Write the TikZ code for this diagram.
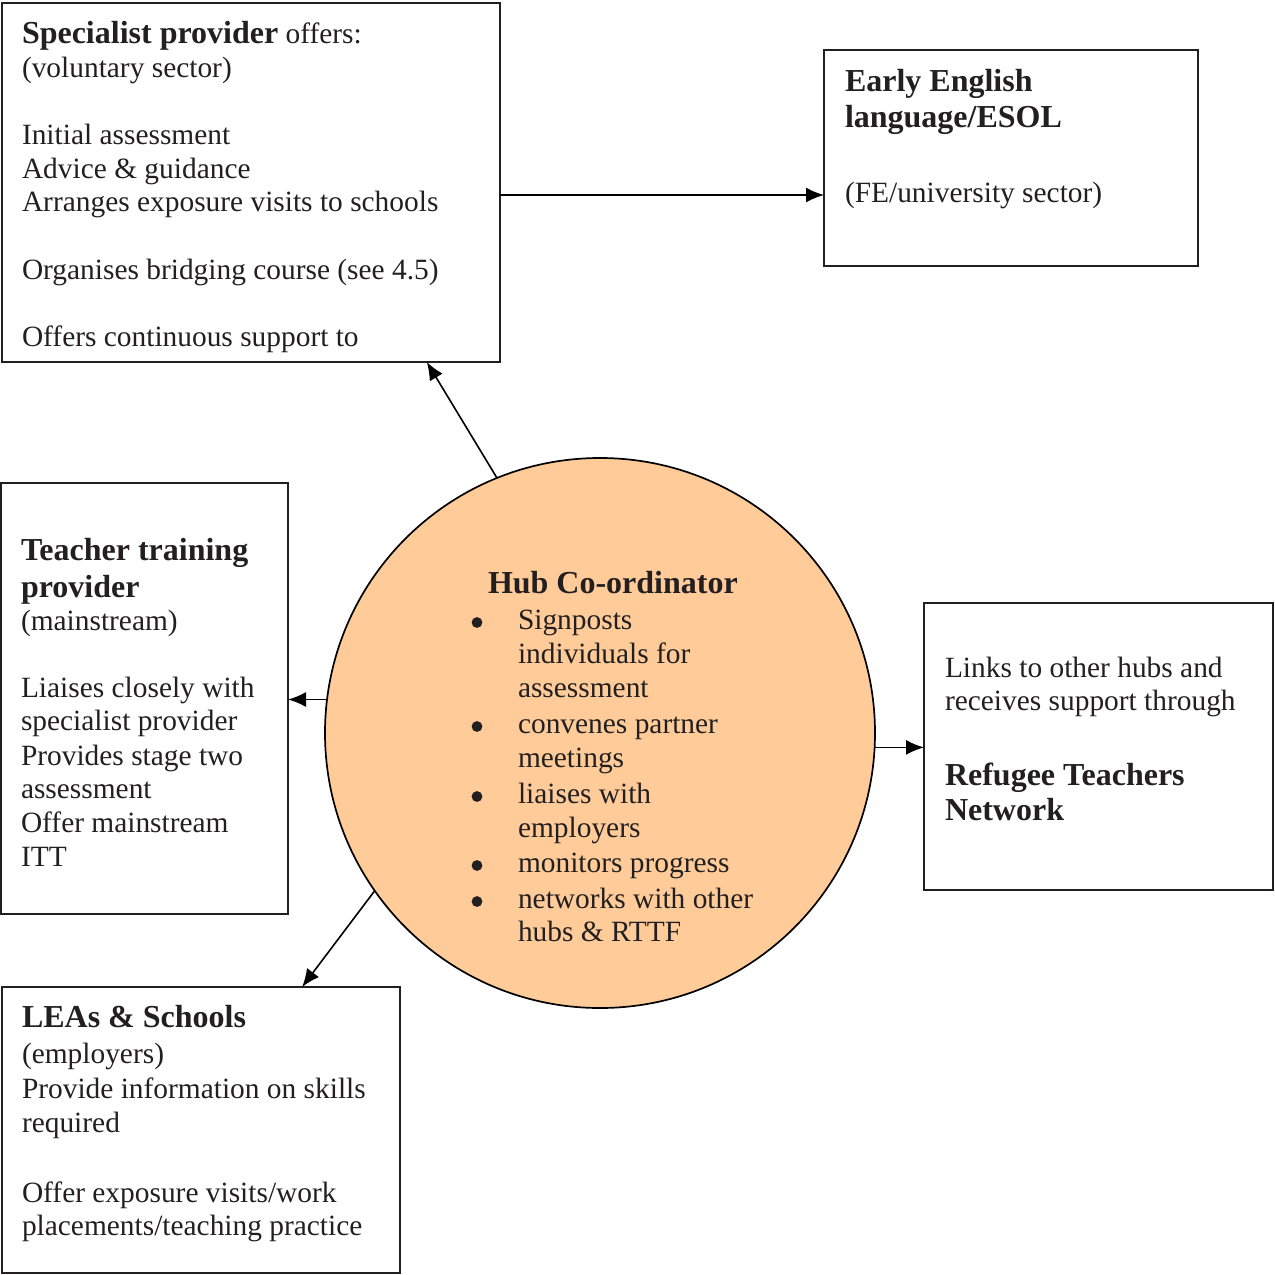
\documentclass[tikz,border=0pt]{standalone}
\usepackage{fontspec}
\setmainfont{Liberation Serif}
\usetikzlibrary{arrows.meta,calc}
\definecolor{ink}{HTML}{231F20}
\definecolor{peach}{HTML}{FFCC99}
\newcommand\tl[4]{\node[tx] (#1) at (#2,#3) {#4};}
\newcommand\hl[4]{\node[tx,hd] (#1) at (#2,#3) {#4};}
\newcommand\bl[3]{\node[dot] (#1) at (#2,#3-6.5) {};}
\begin{document}
\begin{tikzpicture}[x=0.5pt,y=-0.5pt,
 tx/.style={anchor=base west,inner sep=0pt,outer sep=0pt,text=ink,font=\fontsize{14.7}{17}\selectfont},
 hd/.style={font=\fontsize{16}{18.5}\selectfont\bfseries},
 dot/.style={circle,fill=ink,inner sep=0pt,minimum size=5.4pt},
 box/.style={draw=ink,line width=1pt,rectangle,inner sep=0pt,outer sep=0pt,anchor=north west},
 arr/.style={draw=black,line width=0.8pt,-{Latex[length=9pt,width=7.5pt]}}]
\useasboundingbox (0,0) rectangle (1275,1275);
% boxes
\node[box,minimum width=249pt,minimum height=179.5pt] (sp) at (2,3) {};
\node[box,minimum width=187pt,minimum height=108pt] (ee) at (824,50) {};
\node[box,minimum width=143.5pt,minimum height=215.5pt] (tt) at (1,483) {};
\node[box,minimum width=174.5pt,minimum height=143.5pt] (rtn) at (924,603) {};
\node[box,minimum width=199pt,minimum height=143pt] (lea) at (2,987) {};
\node[circle,draw=black,line width=0.85pt,fill=peach,minimum size=275pt,inner sep=0pt,outer sep=0pt] (hub) at (600,733) {};
% connectors
\draw[arr] (hub.112) -- ($(sp.south west)!0.853!(sp.south east)$);
\draw[arr] ([yshift=-6.25pt]sp.east) -- ([yshift=-6.25pt]sp.east -| ee.west);
\draw[arr] (hub.173) -- (hub.173 -| tt.east);
\draw[arr] (hub.-3) -- (hub.-3 -| rtn.west);
\draw[arr] (hub.215) -- ($(lea.north west)!0.754!(lea.north east)$);
% specialist provider
\tl{s1}{22}{43}{{\fontsize{16}{18.5}\selectfont\bfseries Specialist provider} offers:}
\tl{s2}{22}{77}{(voluntary sector)}
\tl{s3}{22}{144}{Initial assessment}
\tl{s4}{22}{178}{Advice \& guidance}
\tl{s5}{22}{211}{Arranges exposure visits to schools}
\tl{s6}{22}{279}{Organises bridging course (see 4.5)}
\tl{s7}{22}{346}{Offers continuous support to}
% early english
\hl{e1}{845}{91}{Early English}
\hl{e2}{845}{127}{language/ESOL}
\tl{e3}{845}{202}{(FE/university sector)}
% teacher training
\hl{t1}{21}{560}{Teacher training}
\hl{t2}{21}{597}{provider}
\tl{t3}{21}{630}{(mainstream)}
\tl{t4}{21}{697}{Liaises closely with}
\tl{t5}{21}{730}{specialist provider}
\tl{t6}{21}{765}{Provides stage two}
\tl{t7}{21}{798}{assessment}
\tl{t8}{21}{832}{Offer mainstream}
\tl{t9}{21}{866}{ITT}
% hub
\hl{h0}{488}{593}{Hub Co-ordinator}
\bl{b1}{477}{629}
\tl{h1}{518}{629}{Signposts}
\tl{h2}{518}{663}{individuals for}
\tl{h3}{518}{697}{assessment}
\bl{b2}{477}{733}
\tl{h4}{518}{733}{convenes partner}
\tl{h5}{518}{767}{meetings}
\bl{b3}{477}{803}
\tl{h6}{518}{803}{liaises with}
\tl{h7}{518}{837}{employers}
\bl{b4}{477}{872}
\tl{h8}{518}{872}{monitors progress}
\bl{b5}{477}{908}
\tl{h9}{518}{908}{networks with other}
\tl{h10}{518}{941}{hubs \& RTTF}
% refugee
\tl{r1}{945}{677}{Links to other hubs and}
\tl{r2}{945}{710}{receives support through}
\hl{r3}{945}{785}{Refugee Teachers}
\hl{r4}{945}{820}{Network}
% LEAs
\hl{l1}{22}{1027}{LEAs \& Schools}
\tl{l2}{22}{1063}{(employers)}
\tl{l3}{22}{1098}{Provide information on skills}
\tl{l4}{22}{1132}{required}
\tl{l5}{22}{1202}{Offer exposure visits/work}
\tl{l6}{22}{1235}{placements/teaching practice}
\end{tikzpicture}
\end{document}
